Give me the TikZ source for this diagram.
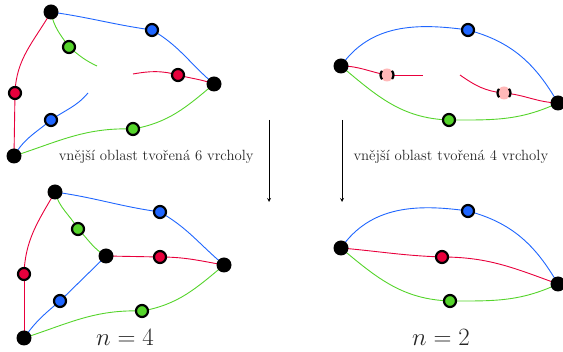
\documentclass[tikz,border=0pt]{standalone}
\usepackage{fontspec}
\definecolor{cred}{HTML}{E8003C}
\definecolor{cblue}{HTML}{1F66FF}
\definecolor{cgreen}{HTML}{55D42B}
\definecolor{cpink}{HTML}{FFB8B8}
\tikzset{
  bk/.style={circle,fill=black,inner sep=0pt,minimum size=15pt},
  cv/.style={circle,draw=black,line width=2.2pt,inner sep=0pt,minimum size=12pt,fill=#1},
  pk/.style={circle,fill=cpink,draw=black,line width=2.2pt,inner sep=0pt,minimum size=13pt,
             dash pattern=on 9pt off 11.4pt,dash phase=4.5pt},
  er/.style={cred,line width=0.9pt},
  eb/.style={cblue,line width=0.9pt},
  eg/.style={cgreen,line width=0.9pt},
  lbl/.style={font=\fontsize{14.8}{17}\selectfont,text=black!85},
  nlbl/.style={font=\fontsize{25}{29}\selectfont,text=black!85},
}
\begin{document}
\begin{tikzpicture}[x=1pt,y=-1pt]
\useasboundingbox (0,0) rectangle (563,352);
% ---------- top-left ----------
\coordinate (a1) at (51,12);
\coordinate (r1) at (214,84);
\coordinate (b1) at (14,156);
\coordinate (g1) at (69,47);
\coordinate (u1) at (152,30);
\coordinate (x1) at (178,75);
\coordinate (y1) at (15,93);
\coordinate (v1) at (51,120);
\coordinate (h1) at (133,129);
\coordinate (gs1) at (97,66);
\coordinate (rs1) at (133,74);
\coordinate (bs1) at (88,93);
\draw[er] (a1) to[out=-120,in=88] (y1);
\draw[er] (y1) -- (b1);
\draw[eb] (a1) to[out=-8,in=172] (u1);
\draw[eb] (u1) to[out=-30,in=140] (r1);
\draw[eg] (a1) to[out=-80,in=125] (g1);
\draw[eg] (g1) to[out=-40,in=155] (gs1);
\draw[er] (rs1) to[out=10,in=165] (x1);
\draw[er] (x1) to[out=-15,in=160] (r1);
\draw[eb] (b1) to[out=60,in=-140] (v1);
\draw[eb] (v1) to[out=35,in=-130] (bs1);
\draw[eg] (b1) to[out=18,in=178] (h1);
\draw[eg] (h1) to[out=10,in=-140] (r1);
\node[bk] (na1) at (a1) {};\node[bk] (nr1) at (r1) {};\node[bk] (nb1) at (b1) {};
\node[cv=cgreen] (ng1) at (g1) {};\node[cv=cblue] (nu1) at (u1) {};\node[cv=cred] (nx1) at (x1) {};
\node[cv=cred] (ny1) at (y1) {};\node[cv=cblue] (nv1) at (v1) {};\node[cv=cgreen] (nh1) at (h1) {};
% ---------- bottom-left ----------
\coordinate (a2) at (55,192);
\coordinate (r2) at (224,265);
\coordinate (b2) at (24,338);
\coordinate (c2) at (106,256);
\coordinate (g2) at (78,229);
\coordinate (u2) at (160,212);
\coordinate (x2) at (160,257);
\coordinate (y2) at (24,274);
\coordinate (v2) at (60,301);
\coordinate (h2) at (142,311);
\draw[er] (a2) to[out=-120,in=88] (y2);
\draw[er] (y2) -- (b2);
\draw[eb] (a2) to[out=-8,in=172] (u2);
\draw[eb] (u2) to[out=-30,in=140] (r2);
\draw[eg] (a2) to[out=-75,in=120] (g2);
\draw[eg] (g2) to[out=-45,in=150] (c2);
\draw[er] (c2) -- (x2);
\draw[er] (x2) to[out=0,in=170] (r2);
\draw[eb] (b2) to[out=55,in=-140] (v2);
\draw[eb] (v2) -- (c2);
\draw[eg] (b2) to[out=18,in=178] (h2);
\draw[eg] (h2) to[out=10,in=-140] (r2);
\node[bk] (na2) at (a2) {};\node[bk] (nr2) at (r2) {};\node[bk] (nb2) at (b2) {};\node[bk] (nc2) at (c2) {};
\node[cv=cgreen] (ng2) at (g2) {};\node[cv=cblue] (nu2) at (u2) {};\node[cv=cred] (nx2) at (x2) {};
\node[cv=cred] (ny2) at (y2) {};\node[cv=cblue] (nv2) at (v2) {};\node[cv=cgreen] (nh2) at (h2) {};
% ---------- top-right ----------
\coordinate (a3) at (341,66);
\coordinate (r3) at (558,103);
\coordinate (u3) at (468,30);
\coordinate (g3) at (449,120);
\coordinate (p3) at (387,75);
\coordinate (q3) at (504,93);
\coordinate (ps3) at (423,75);
\coordinate (qs3) at (460,75);
\draw[eb] (a3) to[out=55,in=172] (u3);
\draw[eb] (u3) to[out=-15,in=120] (r3);
\draw[eg] (a3) to[out=-40,in=178] (g3);
\draw[eg] (g3) to[out=0,in=-155] (r3);
\draw[er] (a3) to[out=0,in=170] (p3);
\draw[er] (p3) -- (ps3);
\draw[er] (qs3) to[out=-35,in=175] (q3);
\draw[er] (q3) to[out=-5,in=178] (r3);
\node[bk] (na3) at (a3) {};\node[bk] (nr3) at (r3) {};
\node[cv=cblue] (nu3) at (u3) {};\node[cv=cgreen] (ng3) at (g3) {};
\node[pk] (np3) at (p3) {};\node[pk] (nq3) at (q3) {};
% ---------- bottom-right ----------
\coordinate (a4) at (341,248);
\coordinate (r4) at (558,284);
\coordinate (u4) at (468,211);
\coordinate (x4) at (442,257);
\coordinate (g4) at (450,301);
\draw[eb] (a4) to[out=55,in=172] (u4);
\draw[eb] (u4) to[out=-15,in=120] (r4);
\draw[er] (a4) to[out=-5,in=178] (x4);
\draw[er] (x4) to[out=0,in=160] (r4);
\draw[eg] (a4) to[out=-40,in=178] (g4);
\draw[eg] (g4) to[out=0,in=-155] (r4);
\node[bk] (na4) at (a4) {};\node[bk] (nr4) at (r4) {};
\node[cv=cblue] (nu4) at (u4) {};\node[cv=cred] (nx4) at (x4) {};\node[cv=cgreen] (ng4) at (g4) {};
% ---------- arrows and labels ----------
\coordinate (s1) at (269,120); \coordinate (e1) at (269,202);
\coordinate (s2) at (342,120); \coordinate (e2) at (342,202);
\draw[-stealth,line width=0.8pt] (s1) -- (e1);
\draw[-stealth,line width=0.8pt] (s2) -- (e2);
\node[lbl,anchor=east] (t1) at (257,157) {vnější oblast tvořená 6 vrcholy};
\node[lbl,anchor=west] (t2) at (350,157) {vnější oblast tvořená 4 vrcholy};
\node[nlbl] (n1) at (125,337) {$n=4$};
\node[nlbl] (n2) at (441,337) {$n=2$};
\end{tikzpicture}
\end{document}
